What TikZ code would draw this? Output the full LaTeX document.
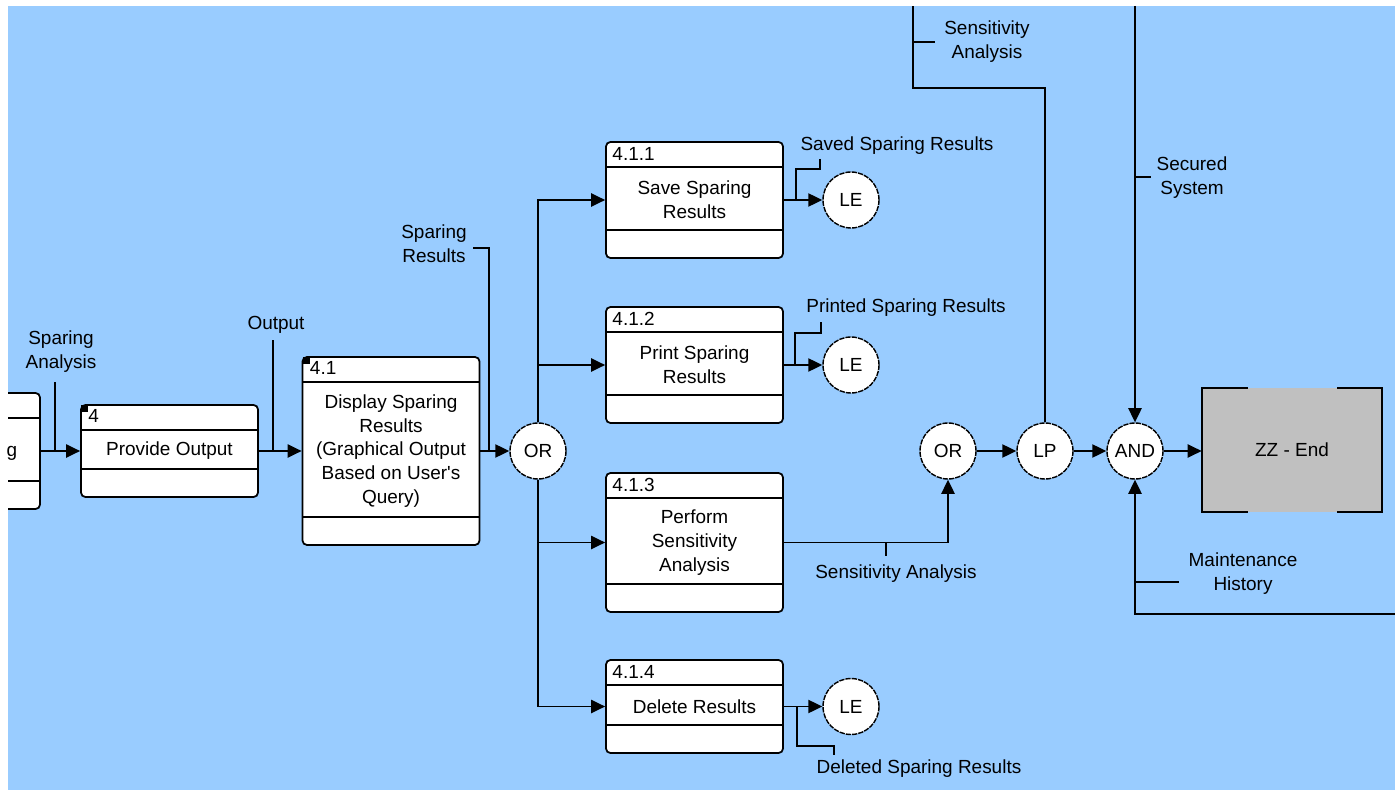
\documentclass[tikz,border=0pt]{standalone}
\usepackage{fontspec}
\setmainfont[Ligatures=NoCommon]{Liberation Sans}
\usetikzlibrary{arrows.meta,positioning,calc}
\definecolor{idefblue}{RGB}{153,204,255}
\definecolor{endgray}{RGB}{192,192,192}

\begin{document}
\begin{tikzpicture}[
    x=0.02cm, y=-0.02cm,
    font=\fontsize{10.8}{13.6}\selectfont,
    uob/.style={rectangle, draw, fill=white, line width=1pt, rounded corners=2.5pt, minimum width=3.54cm, inner sep=0pt, align=center,
        path picture={
            \draw[line width=1pt] ([yshift=-0.5cm]path picture bounding box.north west) -- ([yshift=-0.5cm]path picture bounding box.north east);
            \draw[line width=1pt] ([yshift=0.56cm]path picture bounding box.south west) -- ([yshift=0.56cm]path picture bounding box.south east);}},
    num/.style={anchor=north west, inner sep=0pt},
    junction/.style={circle, draw, fill=white, line width=0.8pt, dash pattern=on 3pt off 0.6pt, minimum size=1.12cm, inner sep=0pt},
    lbl/.style={align=center, inner sep=1pt},
    flow/.style={line width=1pt},
    arrow/.style={flow, -{Triangle[length=8pt,width=7.5pt]}}
]
    \fill[white] (0,0) rectangle (1395,790);
    \useasboundingbox (0,0) rectangle (1395,790);
    \fill[idefblue] (8,6) rectangle (1395,790);

    % units of behaviour
    \begin{scope}
        \clip (8,6) rectangle (1395,790);
        \node[uob, minimum height=2.32cm] (prev) at (-48.5,451) {};
    \end{scope}
    \node[inner sep=0pt] (prevtxt) at (12,453) {g};
    \node[uob, minimum height=1.84cm] (p4) at (169.5,451) {Provide Output};
    \node[uob, minimum height=3.76cm] (p41) at (391,451) {Display Sparing\\Results\\(Graphical Output\\Based on User\textquotesingle s\\Query)};
    \node[uob, minimum height=2.32cm] (p411) at (694.5,200) {Save Sparing\\Results};
    \node[uob, minimum height=2.32cm] (p412) at (694.5,365) {Print Sparing\\Results};
    \node[uob, minimum height=2.78cm] (p413) at (694.5,542.5) {Perform\\Sensitivity\\Analysis};
    \node[uob, minimum height=1.86cm] (p414) at (694.5,706.5) {Delete Results};

    \fill ([xshift=0.5pt,yshift=-0.5pt]p4.north west) rectangle ++(7,7);
    \fill ([xshift=0.5pt,yshift=-0.5pt]p41.north west) rectangle ++(7,7);
    \node[num] at ([xshift=0.16cm,yshift=-0.1cm]p4.north west) {4};
    \node[num] at ([xshift=0.16cm,yshift=-0.1cm]p41.north west) {4.1};
    \node[num] at ([xshift=0.14cm,yshift=-0.12cm]p411.north west) {4.1.1};
    \node[num] at ([xshift=0.14cm,yshift=-0.12cm]p412.north west) {4.1.2};
    \node[num] at ([xshift=0.14cm,yshift=-0.12cm]p413.north west) {4.1.3};
    \node[num] at ([xshift=0.14cm,yshift=-0.12cm]p414.north west) {4.1.4};

    \node[minimum width=3.6cm, minimum height=2.48cm, fill=endgray] (zz) at (1292,450) {ZZ - End};
    \draw[flow] ($(zz.north west)+(46,0)$) -- (zz.north west) -- (zz.south west) -- ++(46,0);
    \draw[flow] ($(zz.north east)+(-45,0)$) -- (zz.north east) -- (zz.south east) -- ++(-45,0);

    % junctions
    \node[junction] (or1) at (538,451) {OR};
    \node[junction] (le1) at (851,200) {LE};
    \node[junction] (le2) at (851,365) {LE};
    \node[junction] (le3) at (851,706.5) {LE};
    \node[junction] (or2) at (948,451) {OR};
    \node[junction] (lp) at (1045,451) {LP};
    \node[junction] (and) at (1135,451) {AND};

    % labels
    \node[lbl] (lblsa) at (61,352) {Sparing\\Analysis};
    \node[lbl] (lblout) at (276,325) {Output};
    \node[lbl] (lblsr) at (434,244) {Sparing\\Results};
    \node[lbl] (lblsaved) at (897,146) {Saved Sparing Results};
    \node[lbl] (lblprinted) at (906,308) {Printed Sparing Results};
    \node[lbl] (lbldeleted) at (919,769) {Deleted Sparing Results};
    \node[lbl] (lblsens) at (896,574) {Sensitivity Analysis};
    \node[lbl] (lblsenstop) at (987,42) {Sensitivity\\Analysis};
    \node[lbl] (lblsecured) at (1192,178) {Secured\\System};
    \node[lbl] (lblmaint) at (1243,574) {Maintenance\\History};

    \coordinate (saT) at (55,382);
    \coordinate (saJ) at (55,451);
    \coordinate (outT) at (273,340);
    \coordinate (outJ) at (273,451);
    \coordinate (srT) at (473,248);
    \coordinate (srJ) at (489,451);
    \coordinate (sensBend) at (913,88);
    \coordinate (sensTop) at (913,6);
    \coordinate (secTop) at (1135,6);
    \coordinate (maintEnd) at (1395,614);

    % connectors
    \draw[arrow] (prev.east |- p4.west) -- (p4.west);
    \draw[arrow] (p4) -- (p41);
    \draw[arrow] (p41) -- (or1);
    \draw[arrow] (or1.north) |- (p411.west);
    \draw[arrow] (or1.north) |- (p412.west);
    \draw[arrow] (or1.south) |- (p413.west);
    \draw[arrow] (or1.south) |- (p414.west);
    \draw[arrow] (p411) -- (le1);
    \draw[arrow] (p412) -- (le2);
    \draw[arrow] (p414) -- (le3);
    \draw[arrow] (p413.east) -| (or2.south);
    \draw[arrow] (or2) -- (lp);
    \draw[arrow] (lp) -- (and);
    \draw[arrow] (and) -- (zz.west |- and.east);
    \draw[flow] (lp.north) |- (sensBend) -- (sensTop);
    \draw[arrow] (secTop) -- (and.north);
    \draw[arrow] (maintEnd) -| (and.south);

    % label ties
    \draw[flow] (saT) -- (saJ);
    \draw[flow] (outT) -- (outJ);
    \draw[flow] (srT) -| (srJ);
    \draw[flow] (820,159) -- (820,169) -| (796,200);
    \draw[flow] (821,322) -- (821,333) -| (795,365);
    \draw[flow] (797,706.5) |- (834,746) -- (834,755);
    \draw[flow] (886,542.5) -- (886,556);
    \draw[flow] (913,42) -- (935,42);
    \draw[flow] (1135,177) -- (1151,177);
    \draw[flow] (1135,582) -- (1179,582);
\end{tikzpicture}
\end{document}
